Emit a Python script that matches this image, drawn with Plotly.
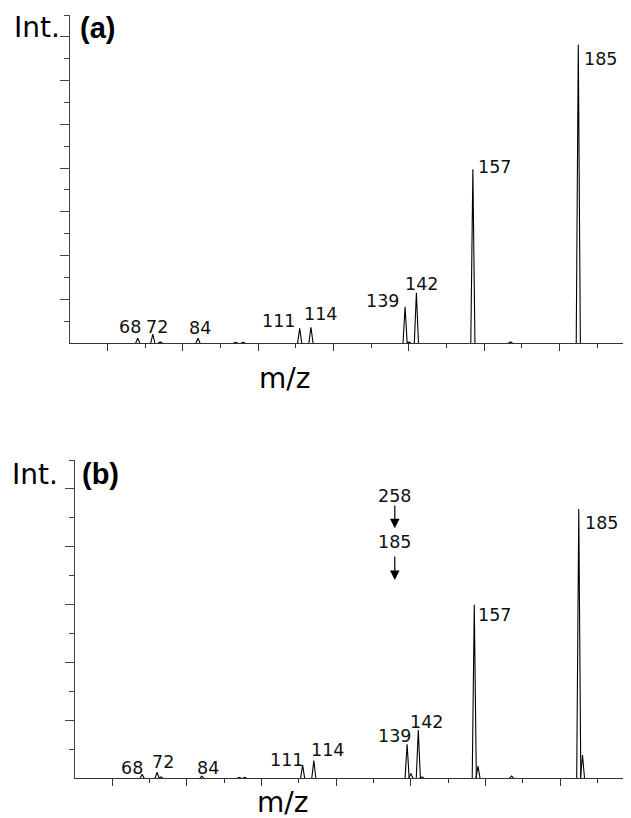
import plotly.graph_objects as go

# ---------------- data ----------------
# panel (a): peak m/z and relative intensity (axis tick units)
mz_a = [68, 72, 74, 84, 94, 96, 111, 114, 139, 140, 142, 157, 167, 185]
int_a = [0.22, 0.41, 0.05, 0.22, 0.03, 0.03, 0.67, 0.72, 1.66, 0.04, 2.30, 7.94, 0.05, 13.65]

# panel (b)
mz_b = [68, 72, 73, 84, 94, 95.5, 111, 114, 139, 140, 142, 143, 157, 158, 167, 185, 186]
int_b = [0.14, 0.21, 0.05, 0.08, 0.03, 0.03, 0.46, 0.61, 1.18, 0.17, 1.67, 0.05, 6.0, 0.42, 0.08, 9.31, 0.80]

# peak labels
labels = ["68", "72", "84", "111", "114", "139", "142", "157", "185"]
# label positions (m/z, intensity) in each panel
lab_a_x = [65.9, 73.2, 84.4, 105.3, 116.4, 133.1, 143.3, 162.7, 191.0]
lab_a_y = [0.71, 0.75, 0.67, 1.02, 1.32, 1.93, 2.71, 8.03, 12.99]
lab_b_x = [65.2, 73.7, 85.7, 106.7, 117.7, 135.5, 144.1, 162.5, 191.1]
lab_b_y = [0.35, 0.56, 0.35, 0.63, 0.98, 1.47, 1.93, 5.63, 8.84]

# fragmentation pathway annotation in (b)
path_text = ["258", "185"]
path_x = 135.7
path_text_y = [9.75, 8.18]
path_arrow_from = [9.48, 7.72]
path_arrow_to = [8.64, 6.85]

# axes
x_range = [50, 199]
x_major = [60, 80, 100, 120, 140, 160, 180]
x_minor = [70, 90, 110, 130, 150, 170, 190]
ya_range = [0, 15]
ya_major = [2, 4, 6, 8, 10, 12, 14]
ya_minor = [1, 3, 5, 7, 9, 11, 13, 15]
yb_range = [0, 11]
yb_major = [2, 4, 6, 8, 10]
yb_minor = [1, 3, 5, 7, 9, 11]

HW = 0.55  # peak half width (drawing style)


def profile(mz, inten):
    xs, ys = [], []
    for m, h in zip(mz, inten):
        xs += [m - HW, m, m + HW, None]
        ys += [0, h, 0, None]
    return xs, ys


# page body has an 8px margin; figure is sized to fill the rest of the window
OFF = 8
W, H = 631 - OFF, 818 - OFF


def px(x):
    return (x - OFF) / W


def py(y):
    return 1 - (y - OFF) / H


fig = go.Figure()
xa, ya = profile(mz_a, int_a)
xb, yb = profile(mz_b, int_b)
fig.add_trace(go.Scatter(x=xa, y=ya, mode="lines", line=dict(color="black", width=1.1),
                         xaxis="x", yaxis="y", hoverinfo="skip", showlegend=False))
fig.add_trace(go.Scatter(x=xb, y=yb, mode="lines", line=dict(color="black", width=1.1),
                         xaxis="x2", yaxis="y2", hoverinfo="skip", showlegend=False))

axis_line = "#333333"
common_x = dict(range=x_range, showgrid=False, zeroline=False, showline=True, linecolor=axis_line,
                linewidth=1.3, ticks="outside", ticklen=7, tickwidth=1.2, tickcolor=axis_line,
                tickvals=x_major, showticklabels=False,
                minor=dict(tickvals=x_minor, ticks="outside", ticklen=4, tickwidth=1.2, tickcolor=axis_line))
common_y = dict(showgrid=False, zeroline=False, showline=True, linecolor="#444444",
                linewidth=1.3, ticks="outside", ticklen=9, tickwidth=1.2, tickcolor="#444444",
                showticklabels=False)

fig.update_layout(
    width=W, height=H,
    margin=dict(l=0, r=0, t=0, b=0),
    paper_bgcolor="white", plot_bgcolor="white",
    xaxis=dict(domain=[px(70), 1], anchor="y", **common_x),
    yaxis=dict(domain=[py(343), py(15)], anchor="x", range=ya_range, tickvals=ya_major,
               minor=dict(tickvals=ya_minor, ticks="outside", ticklen=5, tickwidth=1.2, tickcolor="#444444"),
               **common_y),
    xaxis2=dict(domain=[px(75), 1], anchor="y2", **common_x),
    yaxis2=dict(domain=[py(778.3), py(460)], anchor="x2", range=yb_range, tickvals=yb_major,
                minor=dict(tickvals=yb_minor, ticks="outside", ticklen=5, tickwidth=1.2, tickcolor="#444444"),
                **common_y),
)

lab_font = dict(family="DejaVu Sans", size=17.5, color="#111111")
ann = []
for t, x, y in zip(labels, lab_a_x, lab_a_y):
    ann.append(dict(text=t, x=x, y=y, xref="x", yref="y", showarrow=False,
                    xanchor="center", yanchor="middle", font=lab_font))
for t, x, y in zip(labels, lab_b_x, lab_b_y):
    ann.append(dict(text=t, x=x, y=y, xref="x2", yref="y2", showarrow=False,
                    xanchor="center", yanchor="middle", font=lab_font))
for t, y in zip(path_text, path_text_y):
    ann.append(dict(text=t, x=path_x, y=y, xref="x2", yref="y2", showarrow=False,
                    xanchor="center", yanchor="middle", font=lab_font))
for y0, y1 in zip(path_arrow_from, path_arrow_to):
    ann.append(dict(text="", x=path_x, y=y1, ax=path_x, ay=y0, xref="x2", yref="y2",
                    axref="x2", ayref="y2", showarrow=True, arrowhead=2, arrowsize=1.6,
                    arrowwidth=1.2, arrowcolor="black", standoff=0, startstandoff=0))

title_font = dict(family="DejaVu Sans", size=28, color="black")
panel_font = dict(family="Liberation Sans", size=29, color="black")
# panel (a) texts
ann.append(dict(text="Int.", x=px(37), y=py(27), xref="paper", yref="paper", showarrow=False,
                xanchor="center", yanchor="middle", font=title_font))
ann.append(dict(text="<b>(a)</b>", x=px(97.5), y=py(28), xref="paper", yref="paper", showarrow=False,
                xanchor="center", yanchor="middle", font=panel_font))
ann.append(dict(text="m/z", x=px(284.5), y=py(378), xref="paper", yref="paper", showarrow=False,
                xanchor="center", yanchor="middle", font=title_font))
# panel (b) texts
ann.append(dict(text="Int.", x=px(35), y=py(474), xref="paper", yref="paper", showarrow=False,
                xanchor="center", yanchor="middle", font=title_font))
ann.append(dict(text="<b>(b)</b>", x=px(100), y=py(473.5), xref="paper", yref="paper", showarrow=False,
                xanchor="center", yanchor="middle", font=panel_font))
ann.append(dict(text="m/z", x=px(282.5), y=py(802), xref="paper", yref="paper", showarrow=False,
                xanchor="center", yanchor="middle", font=title_font))

fig.update_layout(annotations=ann)
fig.write_html("out.html")
